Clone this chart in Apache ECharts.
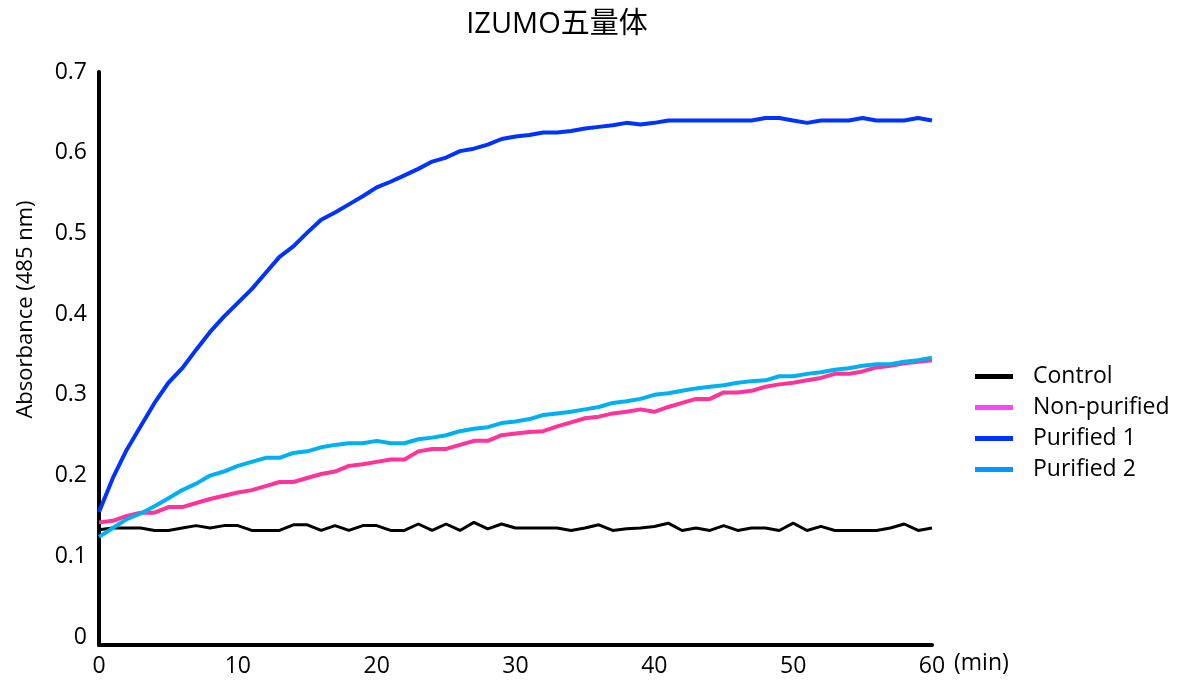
<!DOCTYPE html>
<html>
<head>
<meta charset="utf-8">
<script src="https://cdn.jsdelivr.net/npm/echarts@6/dist/echarts.min.js"></script>
<style>
  html, body { margin: 0; padding: 0; background: #fff; }
  #chart { width: 1181px; height: 680px; }
</style>
</head>
<body>
<div id="chart"></div>
<script>
// Time points (min), one reading per minute
const minutes = Array.from({ length: 61 }, (_, i) => i);

const seriesNames = ['Control', 'Non-purified', 'Purified 1', 'Purified 2'];

const control = [
  0.133, 0.135, 0.135, 0.135, 0.132, 0.132, 0.135, 0.138, 0.135, 0.138,
  0.138, 0.132, 0.132, 0.132, 0.139, 0.139, 0.132, 0.138, 0.132, 0.138,
  0.138, 0.132, 0.132, 0.140, 0.132, 0.140, 0.132, 0.142, 0.134, 0.140,
  0.135, 0.135, 0.135, 0.135, 0.132, 0.135, 0.139, 0.132, 0.134, 0.135,
  0.137, 0.141, 0.132, 0.135, 0.132, 0.138, 0.132, 0.135, 0.135, 0.132,
  0.141, 0.132, 0.137, 0.132, 0.132, 0.132, 0.132, 0.135, 0.140, 0.132,
  0.135
];

const nonPurified = [
  0.142, 0.144, 0.150, 0.154, 0.154, 0.161, 0.161, 0.166, 0.171, 0.175,
  0.179, 0.182, 0.187, 0.192, 0.192, 0.197, 0.202, 0.205, 0.212, 0.214,
  0.217, 0.220, 0.220, 0.230, 0.233, 0.233, 0.238, 0.243, 0.243, 0.250,
  0.252, 0.254, 0.255, 0.261, 0.266, 0.271, 0.273, 0.277, 0.279, 0.282,
  0.279, 0.285, 0.290, 0.295, 0.295, 0.303, 0.303, 0.305, 0.310, 0.313,
  0.315, 0.318, 0.321, 0.326, 0.326, 0.329, 0.334, 0.336, 0.339, 0.341,
  0.343
];

const purified1 = [
  0.155, 0.197, 0.232, 0.261, 0.290, 0.315, 0.333, 0.356, 0.378, 0.397,
  0.414, 0.431, 0.451, 0.471, 0.484, 0.501, 0.517, 0.526, 0.536, 0.546,
  0.557, 0.564, 0.572, 0.580, 0.589, 0.594, 0.602, 0.605, 0.610, 0.617,
  0.620, 0.622, 0.625, 0.625, 0.627, 0.630, 0.632, 0.634, 0.637, 0.635,
  0.637, 0.640, 0.640, 0.640, 0.640, 0.640, 0.640, 0.640, 0.643, 0.643,
  0.640, 0.637, 0.640, 0.640, 0.640, 0.643, 0.640, 0.640, 0.640, 0.643,
  0.640
];

const purified2 = [
  0.124, 0.135, 0.146, 0.153, 0.162, 0.172, 0.182, 0.190, 0.200, 0.205,
  0.212, 0.217, 0.222, 0.222, 0.228, 0.230, 0.235, 0.238, 0.240, 0.240,
  0.243, 0.240, 0.240, 0.245, 0.247, 0.250, 0.255, 0.258, 0.260, 0.265,
  0.267, 0.270, 0.275, 0.277, 0.279, 0.282, 0.285, 0.290, 0.292, 0.295,
  0.300, 0.302, 0.305, 0.308, 0.310, 0.312, 0.315, 0.317, 0.318, 0.323,
  0.323, 0.326, 0.328, 0.331, 0.333, 0.336, 0.338, 0.338, 0.341, 0.343,
  0.346
];

const lineColors = ['#000000', '#ff3399', '#0033ff', '#00b0f0'];
const legendColors = ['#000000', '#ff44ff', '#0033ff', '#0099ff'];
const lineWidths = [3, 4, 4, 4];
const values = [control, nonPurified, purified1, purified2];

const FONT = '"Open Sans", "Noto Sans CJK JP", sans-serif';

const chart = echarts.init(document.getElementById('chart'), null, { renderer: 'canvas' });

const option = {
  backgroundColor: '#ffffff',
  animation: false,
  title: {
    text: 'IZUMO五量体',
    left: 552,
    textAlign: 'center',
    top: 5,
    textStyle: { fontFamily: FONT, fontSize: 29, fontWeight: 'normal', color: '#000' }
  },
  legend: {
    orient: 'vertical',
    left: 970,
    top: 360,
    icon: 'rect',
    itemWidth: 38,
    itemHeight: 5,
    itemGap: 8,
    textStyle: { fontFamily: FONT, fontSize: 23, color: '#000', lineHeight: 23, padding: [0, 0, 0, 15] },
    data: seriesNames.map((n, i) => ({ name: n, itemStyle: { color: legendColors[i] } }))
  },
  grid: [
    // plotting area: 0 .. 0.7
    { left: 99, top: 72, width: 833, height: 565 },
    // frame for the axis lines, reaching slightly below zero
    { left: 99, top: 72, width: 833, height: 573 }
  ],
  xAxis: [
    {
      type: 'value', gridIndex: 0, min: 0, max: 60, interval: 10,
      offset: 8,
      axisLine: { show: false },
      axisTick: { show: false },
      splitLine: { show: false },
      axisLabel: { fontFamily: FONT, fontSize: 23, color: '#000', margin: 10 },
      name: '(min)',
      nameLocation: 'end',
      nameGap: 22,
      nameTextStyle: { fontFamily: FONT, fontSize: 23, color: '#000', verticalAlign: 'top', padding: [15, 0, 0, 0] }
    },
    {
      type: 'value', gridIndex: 1, min: 0, max: 60,
      axisLine: { show: true, lineStyle: { color: '#000', width: 4 } },
      axisTick: { show: false },
      axisLabel: { show: false },
      splitLine: { show: false }
    }
  ],
  yAxis: [
    {
      type: 'value', gridIndex: 0, min: 0, max: 0.7, interval: 0.1,
      axisLine: { show: false },
      axisTick: { show: false },
      splitLine: { show: false },
      axisLabel: { fontFamily: FONT, fontSize: 23, color: '#000', margin: 12 },
      name: 'Absorbance (485 nm)',
      nameLocation: 'middle',
      nameRotate: 90,
      nameGap: 62,
      nameTextStyle: { fontFamily: FONT, fontSize: 22, color: '#000', padding: [0, 0, 0, 90] }
    },
    {
      type: 'value', gridIndex: 1, min: 0, max: 1,
      axisLine: { show: true, lineStyle: { color: '#000', width: 4 } },
      axisTick: { show: false },
      axisLabel: { show: false },
      splitLine: { show: false }
    }
  ],
  series: seriesNames.map((n, i) => ({
    name: n,
    type: 'line',
    xAxisIndex: 0,
    yAxisIndex: 0,
    showSymbol: false,
    symbol: 'none',
    lineStyle: { color: lineColors[i], width: lineWidths[i] },
    itemStyle: { color: lineColors[i] },
    data: minutes.map((t, k) => [t, values[i][k]])
  }))
};

chart.setOption(option);
</script>
</body>
</html>
